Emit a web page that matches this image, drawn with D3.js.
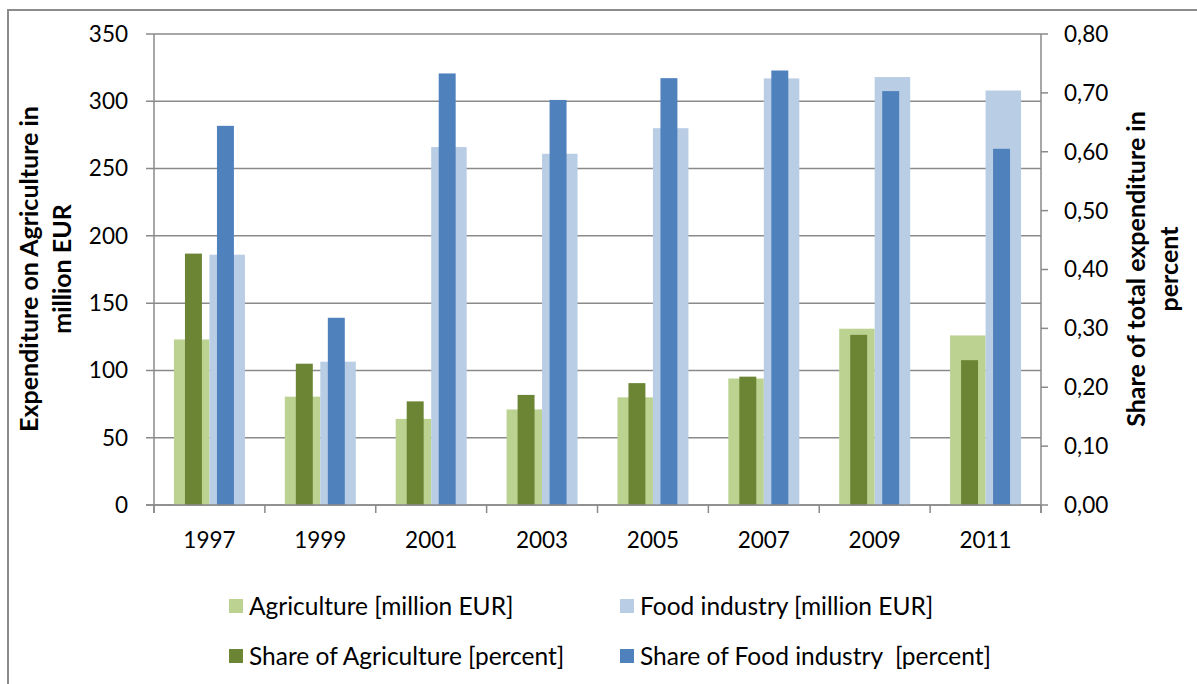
<!DOCTYPE html>
<html>
<head>
<meta charset="utf-8">
<script src="https://cdn.jsdelivr.net/npm/d3@7/dist/d3.min.js"></script>
<style>
  html, body { margin: 0; padding: 0; background: #fff; }
  svg { display: block; }
  text { font-family: Lato, "Open Sans", sans-serif; fill: #000; }
</style>
</head>
<body>
<svg id="chart" width="1197" height="684"></svg>
<script>
// ---- data ----
const years = ["1997", "1999", "2001", "2003", "2005", "2007", "2009", "2011"];
const agriculture = [123, 80.5, 64, 71, 80, 94, 131, 126];            // million EUR
const foodIndustry = [186, 106.5, 266, 261, 280, 317, 318, 308];      // million EUR
const shareAgriculture = [0.427, 0.240, 0.176, 0.187, 0.207, 0.218, 0.289, 0.246]; // percent
const shareFoodIndustry = [0.644, 0.318, 0.733, 0.688, 0.725, 0.738, 0.703, 0.605]; // percent
const primaryTicks = [0, 50, 100, 150, 200, 250, 300, 350];
const secondaryTicks = [0, 0.1, 0.2, 0.3, 0.4, 0.5, 0.6, 0.7, 0.8];
const seriesNames = ["Agriculture [million EUR]", "Food industry [million EUR]",
                     "Share of Agriculture [percent]", "Share of Food industry  [percent]"];
const colors = ["#bcd291", "#b9cde5", "#6b8535", "#4f81bd"];

// ---- layout ----
const svg = d3.select("#chart");
const L = 154, R = 1041, T = 34, B = 505;
const gridColor = "#8a8a8a";

// outer border (top + left)
svg.append("path").attr("d", "M8,684 L8,10 L1197,10")
  .attr("fill", "none").attr("stroke", "#8c8c8c").attr("stroke-width", 2);

const x = d3.scaleBand().domain(years).range([L, R]).padding(0);
const yP = d3.scaleLinear().domain([0, 350]).range([B, T]);
const yS = d3.scaleLinear().domain([0, 0.8]).range([B, T]);
const cw = x.bandwidth();

// primary inner scale
const xP = d3.scaleBand().domain([0, 1]).range([cw / 2 - 35.5, cw / 2 + 35.5]).padding(0);
// secondary inner scale
const xS = d3.scaleBand().domain([0, 1]).range([cw / 2 - 32, cw / 2 + 32])
  .paddingInner(0.47).paddingOuter(0.235);

// gridlines
svg.append("g").selectAll("line").data(primaryTicks).join("line")
  .attr("x1", L - 8).attr("x2", R)
  .attr("y1", d => yP(d)).attr("y2", d => yP(d))
  .attr("stroke", gridColor).attr("stroke-width", 1.5);

// left axis line
svg.append("line").attr("x1", L).attr("x2", L).attr("y1", T).attr("y2", B + 8)
  .attr("stroke", gridColor).attr("stroke-width", 1.5);
// right axis line
svg.append("line").attr("x1", R).attr("x2", R).attr("y1", T).attr("y2", B + 8)
  .attr("stroke", gridColor).attr("stroke-width", 1.5);

// category ticks
const catBounds = years.map(d => x(d)).concat([R]);
svg.append("g").selectAll("line").data(catBounds).join("line")
  .attr("x1", d => d).attr("x2", d => d).attr("y1", B).attr("y2", B + 8)
  .attr("stroke", gridColor).attr("stroke-width", 1.5);

// secondary ticks
svg.append("g").selectAll("line").data(secondaryTicks).join("line")
  .attr("x1", R).attr("x2", R + 7)
  .attr("y1", d => yS(d)).attr("y2", d => yS(d))
  .attr("stroke", gridColor).attr("stroke-width", 1.5);

// bars
const groups = svg.append("g").selectAll("g").data(years).join("g")
  .attr("transform", d => `translate(${x(d)},0)`);

const primary = [agriculture, foodIndustry];
const secondary = [shareAgriculture, shareFoodIndustry];

primary.forEach((arr, k) => {
  groups.append("rect")
    .attr("x", xP(k)).attr("width", xP.bandwidth())
    .attr("y", (d, i) => yP(arr[i])).attr("height", (d, i) => B - yP(arr[i]))
    .attr("fill", colors[k]);
});
secondary.forEach((arr, k) => {
  groups.append("rect")
    .attr("x", xS(k)).attr("width", xS.bandwidth())
    .attr("y", (d, i) => yS(arr[i])).attr("height", (d, i) => B - yS(arr[i]))
    .attr("fill", colors[k + 2]);
});

// redraw baseline on top
svg.append("line").attr("x1", L - 8).attr("x2", R).attr("y1", B).attr("y2", B)
  .attr("stroke", gridColor).attr("stroke-width", 1.5);

// tick labels
const fs = 22.5;
svg.append("g").selectAll("text").data(primaryTicks).join("text")
  .attr("x", 128).attr("y", d => yP(d)).attr("dy", "0.35em")
  .attr("text-anchor", "end").attr("font-size", fs).text(d => d);

const fmt = d3.format(".2f");
svg.append("g").selectAll("text").data(secondaryTicks).join("text")
  .attr("x", 1064).attr("y", d => yS(d)).attr("dy", "0.35em")
  .attr("text-anchor", "start").attr("font-size", fs).text(d => fmt(d).replace(".", ","));

svg.append("g").selectAll("text").data(years).join("text")
  .attr("x", d => x(d) + cw / 2).attr("y", 548)
  .attr("text-anchor", "middle").attr("font-size", fs).text(d => d);

// axis titles
function vtitle(xb, lines) {
  const g = svg.append("g").attr("transform", `translate(${xb},269) rotate(-90)`);
  lines.forEach((t, i) => {
    g.append("text").attr("x", 0).attr("y", i * 33)
      .attr("text-anchor", "middle").attr("font-size", 25).attr("font-weight", "bold").text(t);
  });
}
vtitle(38, ["Expenditure on Agriculture in", "million EUR"]);
vtitle(1145, ["Share of total expenditure  in", "percent"]);

// legend
const legendPos = [[229, 606], [620, 606], [229, 656], [620, 656]];
seriesNames.forEach((name, i) => {
  const [lx, ly] = legendPos[i];
  svg.append("rect").attr("x", lx).attr("y", ly - 7).attr("width", 14).attr("height", 14)
    .attr("fill", colors[i]);
  svg.append("text").attr("x", lx + 20).attr("y", ly).attr("dy", "0.35em")
    .attr("font-size", 24.5).style("white-space", "pre").text(name);
});
</script>
</body>
</html>
